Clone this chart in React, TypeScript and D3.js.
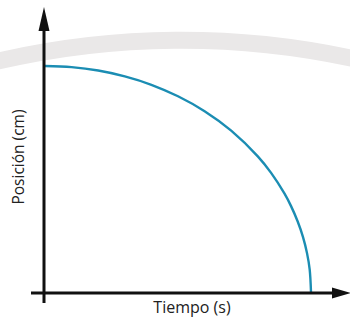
import React from "react";
import * as d3 from "d3";

// Values (arbitrary units)
const tiempo = [0, 1, 2, 3, 4, 5, 6, 7, 8, 8.5, 9, 9.25, 9.5, 9.7, 9.85, 9.95, 10];
const posicion = [10, 9.95, 9.8, 9.54, 9.17, 8.66, 8.0, 7.14, 6.0, 5.27, 4.36, 3.8, 3.12, 2.43, 1.72, 1.0, 0];
const xLabel = "Tiempo (s)";
const yLabel = "Posición (cm)";

const W = 350;
const H = 320;

export default function App() {
  const x = d3.scaleLinear().domain([0, 10]).range([45, 311]);
  const y = d3.scaleLinear().domain([0, 10]).range([292, 66]);
  const pts: [number, number][] = tiempo.map((t, i) => [x(t), y(posicion[i])]);
  const line = d3.line().curve(d3.curveCatmullRom.alpha(0.5))(pts) || "";

  const x0 = x(0) - 1; // y-axis position
  const y0 = y(0) + 1; // x-axis position

  // decorative gray band
  const R = 815;
  const band = `M -10 63 A ${R} ${R} 0 0 1 360 60`;

  return (
    <div style={{ position: "fixed", left: 0, top: 0, width: W, height: H, background: "#fff" }}>
      <svg width={W} height={H} style={{ display: "block" }}>
        <rect width={W} height={H} fill="#fff" />
        <path d={band} fill="none" stroke="#eae8e8" strokeWidth={17} />
        <path d={line} fill="none" stroke="#1b8db3" strokeWidth={2.4} />
        {/* y axis */}
        <line x1={x0} x2={x0} y1={303} y2={26} stroke="#111" strokeWidth={3} />
        <path d={`M ${x0} 7 L ${x0 - 5.5} 31 L ${x0 + 5.5} 31 Z`} fill="#111" />
        {/* x axis */}
        <line x1={31} x2={336} y1={y0} y2={y0} stroke="#111" strokeWidth={3} />
        <path d={`M 351 ${y0} L 332 ${y0 - 5.5} L 332 ${y0 + 5.5} Z`} fill="#111" />
        <text
          x={192}
          y={313}
          textAnchor="middle"
          fontFamily="Open Sans"
          fontSize={16}
          fill="#222"
        >
          {xLabel}
        </text>
        <text
          transform="translate(24,157) rotate(-90)"
          textAnchor="middle"
          fontFamily="Open Sans"
          fontSize={15.5}
          fill="#222"
        >
          {yLabel}
        </text>
      </svg>
    </div>
  );
}
